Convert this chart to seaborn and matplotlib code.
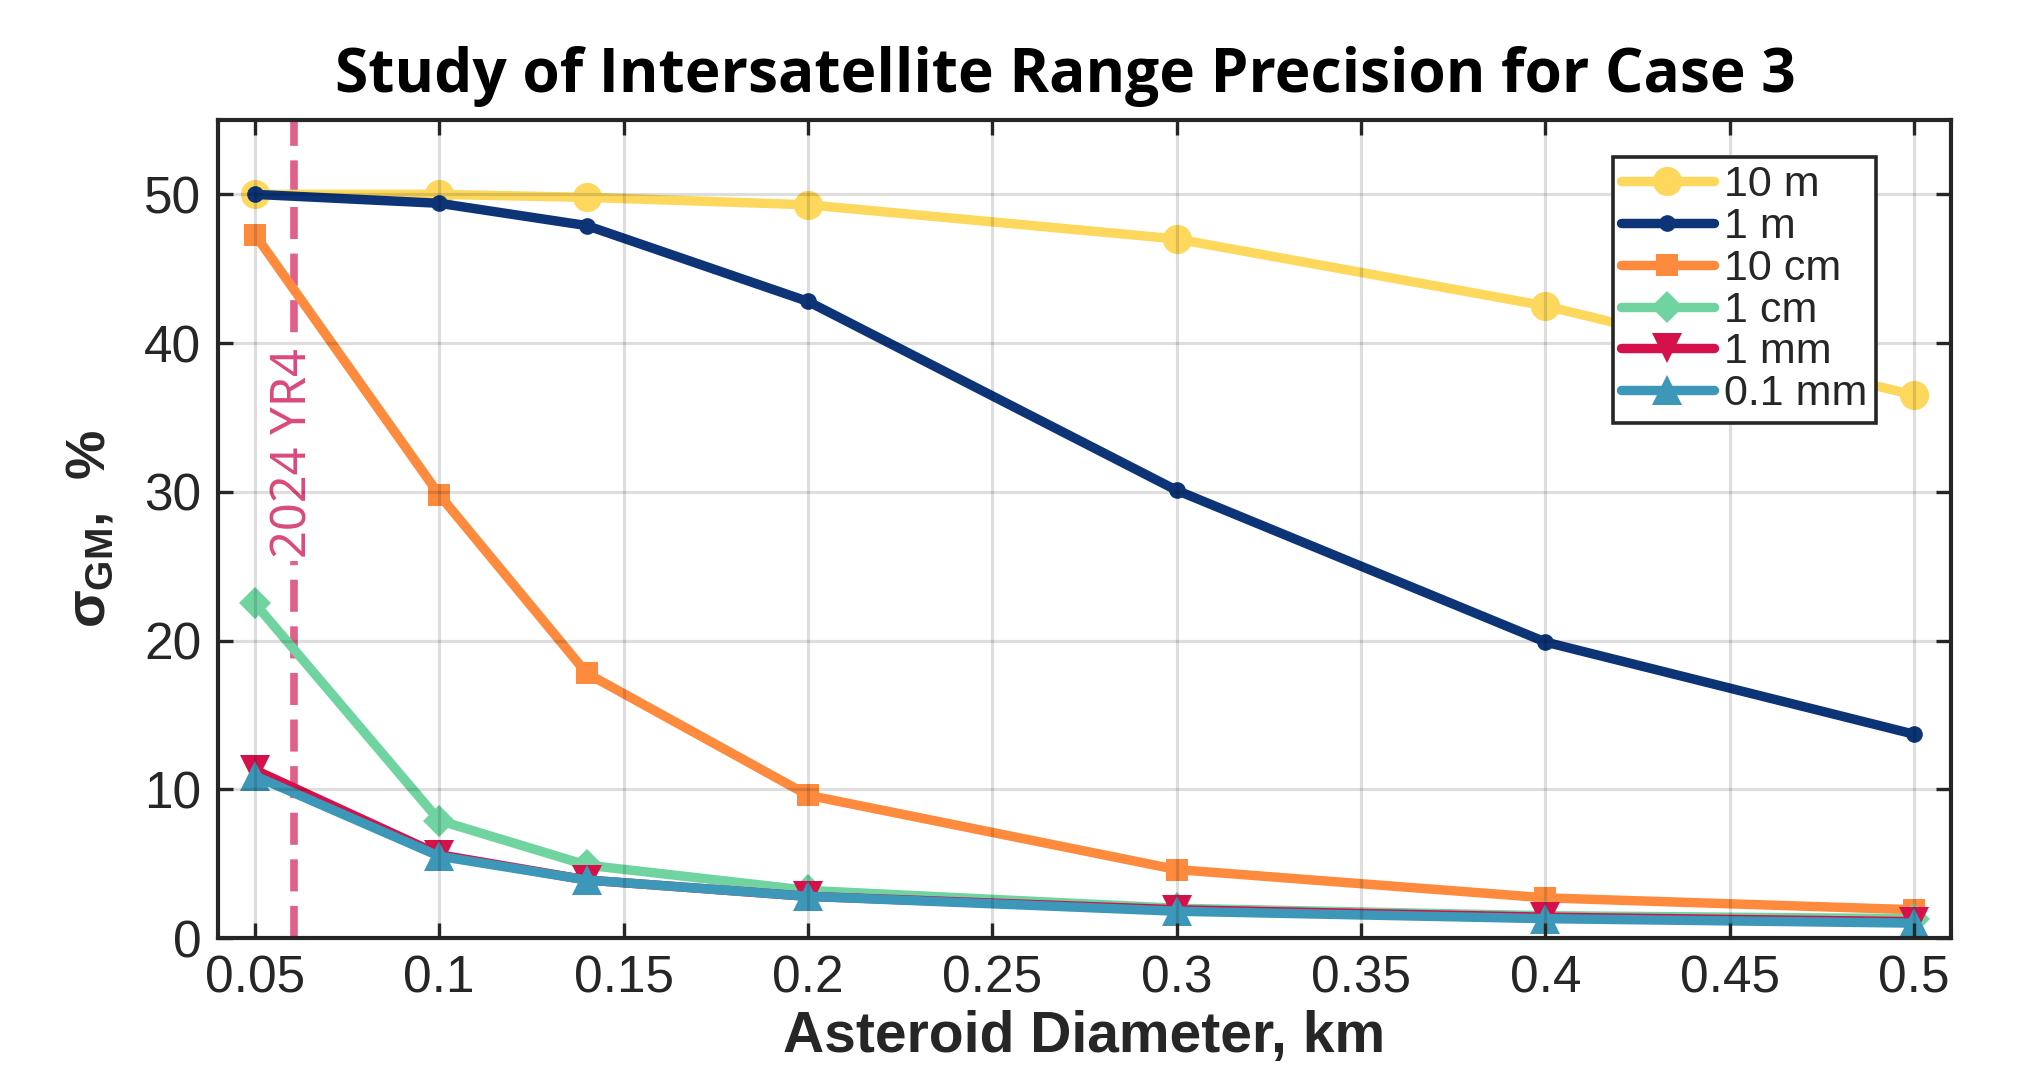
import numpy as np
import pandas as pd
import matplotlib
matplotlib.use("Agg")
import matplotlib.pyplot as plt
import seaborn as sns

# ---- data ----
diameters = [0.05, 0.10, 0.14, 0.20, 0.30, 0.40, 0.50]
labels = ["10 m", "1 m", "10 cm", "1 cm", "1 mm", "0.1 mm"]
sig_10m = [50.0, 50.0, 49.8, 49.3, 47.0, 42.5, 36.5]
sig_1m = [50.0, 49.4, 47.9, 42.8, 30.1, 19.9, 13.7]
sig_10cm = [47.3, 29.8, 17.8, 9.6, 4.6, 2.7, 1.9]
sig_1cm = [22.5, 7.9, 4.9, 3.2, 2.0, 1.5, 1.3]
sig_1mm = [11.3, 5.6, 3.9, 2.8, 1.9, 1.4, 1.1]
sig_01mm = [10.9, 5.5, 3.9, 2.8, 1.8, 1.3, 1.0]
series = [sig_10m, sig_1m, sig_10cm, sig_1cm, sig_1mm, sig_01mm]
yr4_diameter = 0.0605
yr4_label = "2024 YR4"
x_ticks = [0.05, 0.1, 0.15, 0.2, 0.25, 0.3, 0.35, 0.4, 0.45, 0.5]
x_ticklabels = ["0.05", "0.1", "0.15", "0.2", "0.25", "0.3", "0.35", "0.4", "0.45", "0.5"]
y_ticks = [0, 10, 20, 30, 40, 50]

colors = ["#FDD85D", "#0C3477", "#FD8A3D", "#6FD4A0", "#D6104A", "#3C97B8"]
markers = ["o", "o", "s", "D", "v", "^"]
msizes = [21, 12, 16, 16, 22, 22]

rows = []
for lab, vals in zip(labels, series):
    for d, v in zip(diameters, vals):
        rows.append({"Diameter": d, "Sigma": v, "Precision": lab})
df = pd.DataFrame(rows)

sns.set_theme(style="white")
plt.rcParams["font.family"] = ["Liberation Sans", "DejaVu Sans"]
plt.rcParams["mathtext.fontset"] = "custom"
plt.rcParams["mathtext.rm"] = "Liberation Sans:bold"
plt.rcParams["mathtext.it"] = "Liberation Sans:bold"
plt.rcParams["mathtext.bf"] = "Liberation Sans:bold"

fig = plt.figure(figsize=(20.21, 10.72), dpi=100)
ax = fig.add_axes([218 / 2021, 1 - 938 / 1072, (1951 - 218) / 2021, (938 - 120) / 1072])

for lab, c, m, ms in zip(labels, colors, markers, msizes):
    sub = df[df["Precision"] == lab]
    sns.lineplot(data=sub, x="Diameter", y="Sigma", ax=ax, color=c, marker=m,
                 markersize=ms, markeredgewidth=0, linewidth=6.8, label=lab,
                 errorbar=None)

ax.axvline(yr4_diameter, color="#E0608A", linewidth=5.5, dashes=(4.2, 1.9), zorder=1.5)
ax.text(yr4_diameter, 32.6, yr4_label, rotation=90, ha="center", va="center",
        color="#D94A7A", fontsize=35, family=["Noto Sans", "DejaVu Sans"],
        bbox=dict(facecolor="white", edgecolor="none", pad=2), zorder=1.6)

ax.set_xlim(0.04, 0.51)
ax.set_ylim(0, 55)
ax.set_xticks(x_ticks)
ax.set_xticklabels(x_ticklabels)
ax.set_yticks(y_ticks)

ax.grid(True, color="black", alpha=0.13, linewidth=2.3)
ax.set_axisbelow(False)

ax.tick_params(direction="in", length=11, width=2.4, color="#262626",
               labelsize=37, labelcolor="#262626", top=True, right=True,
               bottom=True, left=True)
ax.tick_params(axis="x", pad=12)
ax.tick_params(axis="y", pad=12)
for sp in ax.spines.values():
    sp.set_visible(True)
    sp.set_linewidth(3.0)
    sp.set_color("#262626")

ax.set_xlabel("Asteroid Diameter, km", fontsize=41, fontweight="bold", color="#262626")
ax.xaxis.set_label_coords(0.5, -0.088)
ax.set_ylabel(r"$\sigma_{\rm GM}$,  %", fontsize=40, fontweight="bold", color="#262626")
ax.yaxis.set_label_coords(-0.058, 0.5)

fig.text(1065 / 2021, 1 - 46 / 1072, "Study of Intersatellite Range Precision for Case 3",
         ha="center", va="top", fontsize=43.5, fontweight="bold",
         family=["Open Sans", "DejaVu Sans"], color="black")

leg = ax.legend(loc="upper right", bbox_to_anchor=(0.957, 0.955), borderaxespad=0,
                fontsize=31, labelspacing=0.04, handlelength=2.15, handletextpad=0.25,
                borderpad=0.2, fancybox=False, framealpha=1, edgecolor="#262626")
leg.get_frame().set_linewidth(2.6)
for t in leg.get_texts():
    t.set_color("#262626")

fig.savefig("out.png", dpi=100, facecolor="white")
